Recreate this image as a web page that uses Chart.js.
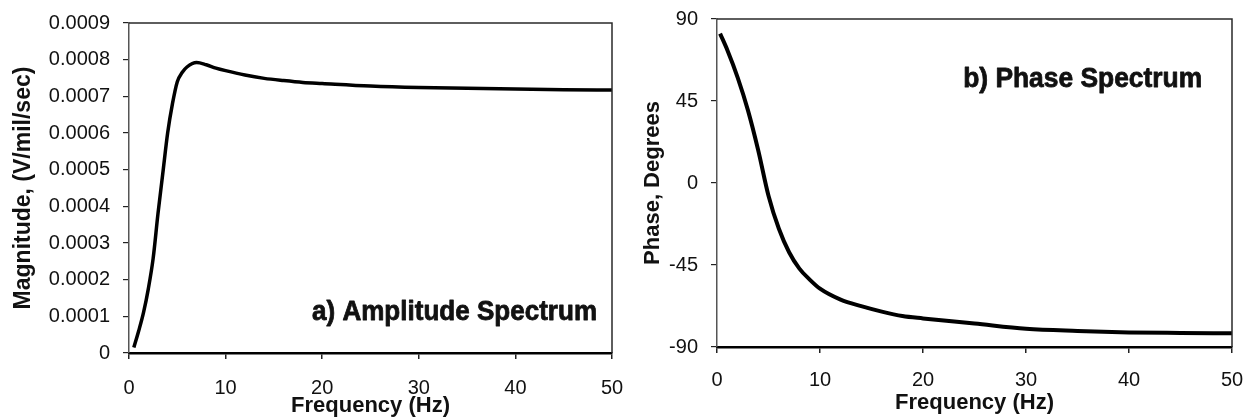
<!DOCTYPE html>
<html>
<head>
<meta charset="utf-8">
<script src="https://cdn.jsdelivr.net/npm/chart.js@4.4.1/dist/chart.umd.min.js"></script>
<style>
  html, body { margin: 0; padding: 0; background: #fff; }
  body { width: 1252px; height: 419px; position: relative; overflow: hidden; }
  .box { position: absolute; top: 0; width: 626px; height: 419px; }
  #wa { left: 0; }
  #wb { left: 626px; }
  canvas { display: block; }
</style>
</head>
<body>
<div class="box" id="wa"><canvas id="ampChart" width="626" height="419"></canvas></div>
<div class="box" id="wb"><canvas id="phaseChart" width="626" height="419"></canvas></div>
<script>
// ---------- data ----------
const ampFreq = [0.5, 1, 1.5, 2, 2.5, 3, 3.5, 4, 4.5, 5, 5.5, 6, 7, 8, 9, 10, 12, 14, 16, 18, 20, 25, 30, 35, 40, 45, 50];
const ampValues = [0.000015, 0.00006, 0.00011, 0.000175, 0.000258, 0.00038, 0.00049, 0.0006, 0.00068, 0.00074, 0.000765, 0.00078, 0.000792, 0.000786, 0.000777, 0.00077, 0.000758, 0.000749, 0.000743, 0.000738, 0.000735, 0.000728, 0.000724, 0.000722, 0.00072, 0.000718, 0.000717];

const phaseFreq = [0.3, 1, 2, 3, 4, 5, 6, 7, 8, 9, 10, 12, 14, 16, 18, 20, 25, 30, 35, 40, 45, 50];
const phaseValues = [82, 73, 58, 40, 18, -7, -25, -38, -47, -53, -58, -64, -67.6, -70.6, -73, -74.3, -77.1, -80, -81.2, -82, -82.3, -82.5];

const freqTicks = [0, 10, 20, 30, 40, 50];
const ampTickLabels = ['0', '0.0001', '0.0002', '0.0003', '0.0004', '0.0005', '0.0006', '0.0007', '0.0008', '0.0009'];
const phaseTicks = [-90, -45, 0, 45, 90];

const ampAxisTitle = 'Magnitude, (V/mil/sec)';
const phaseAxisTitle = 'Phase, Degrees';
const freqAxisTitle = 'Frequency (Hz)';
const ampLabel = 'a) Amplitude Spectrum';
const phaseLabel = 'b) Phase Spectrum';

// ---------- helpers ----------
const FONT = "'Liberation Sans', Arial, sans-serif";
const toPoints = (xs, ys) => xs.map((x, i) => ({ x: x, y: ys[i] }));

// frame (top + right border) plugin
const framePlugin = {
  id: 'frame',
  afterDraw(chart) {
    const { ctx, chartArea: a } = chart;
    ctx.save();
    ctx.strokeStyle = '#2a2a2a';
    ctx.lineWidth = 1.5;
    ctx.beginPath();
    ctx.moveTo(a.left, a.top);
    ctx.lineTo(a.right, a.top);
    ctx.lineTo(a.right, a.bottom);
    ctx.stroke();
    ctx.restore();
  }
};

// condensed bold label plugin; anchor given in data units
const labelPlugin = {
  id: 'panelLabel',
  afterDatasetsDraw(chart, args, opts) {
    if (!opts || !opts.text) return;
    const { ctx, scales } = chart;
    const px = scales.x.getPixelForValue(opts.x);
    const py = scales.y.getPixelForValue(opts.y);
    ctx.save();
    ctx.font = 'bold ' + opts.size + 'px ' + FONT;
    ctx.fillStyle = '#111';
    ctx.strokeStyle = '#111';
    ctx.lineWidth = 0.8;
    ctx.lineJoin = 'round';
    ctx.textBaseline = 'alphabetic';
    ctx.textAlign = 'left';
    const w = ctx.measureText(opts.text).width;
    const sx = opts.width / w;
    ctx.translate(opts.align === 'right' ? px - opts.width : px, py);
    ctx.scale(sx, 1);
    ctx.fillText(opts.text, 0, 0);
    ctx.strokeText(opts.text, 0, 0);
    ctx.restore();
  }
};

function makeScales(cfg) {
  return {
    x: {
      type: 'linear',
      min: 0, max: 50,
      afterBuildTicks: s => { s.ticks = freqTicks.map(v => ({ value: v })); },
      ticks: { font: { family: FONT, size: 20 }, color: '#111', padding: cfg.xPad, maxRotation: 0 },
      grid: { drawOnChartArea: false, drawTicks: true, tickLength: 6, color: '#222', lineWidth: 1.5 },
      border: { display: true, color: '#000', width: 2.5 },
      title: { display: true, text: freqAxisTitle, color: '#111',
               font: { family: FONT, size: 22, weight: 'bold' }, padding: { top: 0, bottom: cfg.xTitlePad } },
      afterFit: s => { s.height = cfg.xHeight; s.paddingLeft = 0; s.paddingRight = 0; }
    },
    y: {
      type: 'linear',
      min: cfg.yMin, max: cfg.yMax,
      afterBuildTicks: s => { s.ticks = cfg.yTicks.map(v => ({ value: v })); },
      ticks: { font: { family: FONT, size: 20 }, color: '#111', padding: 13,
               callback: cfg.yCallback },
      grid: { drawOnChartArea: false, drawTicks: true, tickLength: 6, color: '#222', lineWidth: 1.2 },
      border: { display: true, color: '#555', width: 1.5 },
      title: { display: true, text: cfg.yTitle, color: '#111',
               font: { family: FONT, size: cfg.yTitleSize, weight: 'bold' }, padding: { top: cfg.yTitlePad, bottom: 0 } },
      afterFit: s => { s.width = cfg.yWidth; s.paddingTop = 0; s.paddingBottom = 0; }
    }
  };
}

Chart.defaults.font.family = FONT;

// ---------- amplitude chart ----------
const ampYTicks = ampTickLabels.map(t => parseFloat(t));
new Chart(document.getElementById('ampChart'), {
  type: 'line',
  data: {
    datasets: [{
      data: toPoints(ampFreq, ampValues),
      borderColor: '#000',
      borderWidth: 3.5,
      pointRadius: 0,
      fill: false,
      cubicInterpolationMode: 'monotone'
    }]
  },
  options: {
    responsive: false,
    animation: false,
    events: [],
    layout: { padding: { left: 0, right: 14, top: 23, bottom: 0 } },
    plugins: {
      legend: { display: false },
      tooltip: { enabled: false },
      panelLabel: { text: ampLabel, x: 48.45, y: 0.00009, align: 'right', width: 285, size: 28 }
    },
    scales: makeScales({
      xPad: 17, xHeight: 66, xTitlePad: 0,
      yMin: 0, yMax: 0.0009, yTicks: ampYTicks, yWidth: 129, yTitlePad: 10, yTitleSize: 23,
      yTitle: ampAxisTitle,
      yCallback: (v) => { const i = ampYTicks.findIndex(t => Math.abs(t - v) < 1e-9); return i >= 0 ? ampTickLabels[i] : ''; }
    })
  },
  plugins: [framePlugin, labelPlugin]
});

// ---------- phase chart ----------
new Chart(document.getElementById('phaseChart'), {
  type: 'line',
  data: {
    datasets: [{
      data: toPoints(phaseFreq, phaseValues),
      borderColor: '#000',
      borderWidth: 4,
      pointRadius: 0,
      fill: false,
      cubicInterpolationMode: 'monotone'
    }]
  },
  options: {
    responsive: false,
    animation: false,
    events: [],
    layout: { padding: { left: 0, right: 20, top: 19, bottom: 0 } },
    plugins: {
      legend: { display: false },
      tooltip: { enabled: false },
      panelLabel: { text: phaseLabel, x: 23.9, y: 52.7, align: 'left', width: 239, size: 28 }
    },
    scales: makeScales({
      xPad: 15, xHeight: 72, xTitlePad: 3,
      yMin: -90, yMax: 90, yTicks: phaseTicks, yWidth: 91, yTitlePad: 14, yTitleSize: 22,
      yTitle: phaseAxisTitle,
      yCallback: (v) => String(v)
    })
  },
  plugins: [framePlugin, labelPlugin]
});
</script>
</body>
</html>
